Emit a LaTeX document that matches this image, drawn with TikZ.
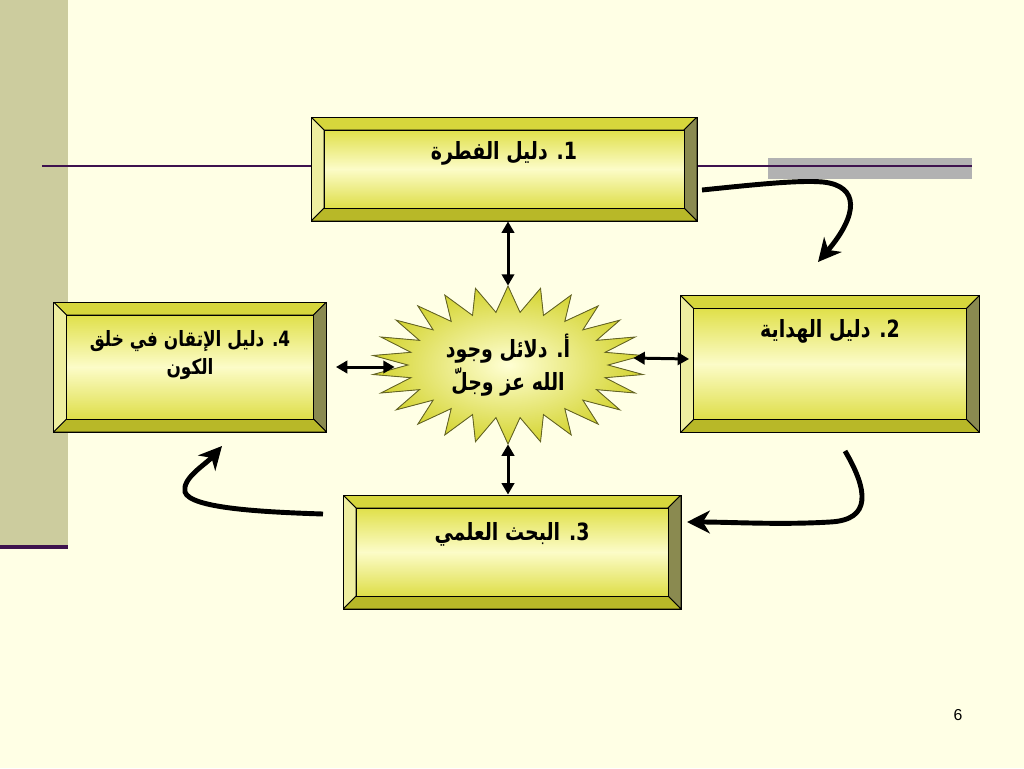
\documentclass[tikz,border=0pt]{standalone}
\usepackage{fontspec}
\setmainfont{Liberation Sans}
\newfontfamily\arabicfont[Script=Arabic, FakeStretch=0.8]{DejaVu Sans}
\TeXXeTstate=1
\usetikzlibrary{calc}
\usetikzlibrary{positioning}
\usetikzlibrary{arrows.meta}
\usetikzlibrary{shapes.geometric}

\definecolor{bgColor}{RGB}{255,255,229}
\definecolor{sideBar}{RGB}{204,204,158}
\definecolor{purpleLine}{RGB}{62,18,78}
\definecolor{greyBar}{RGB}{178,178,178}
\definecolor{bevelTop}{RGB}{214,214,60}
\definecolor{bevelLeft}{RGB}{238,238,160}
\definecolor{bevelRight}{RGB}{138,138,80}
\definecolor{bevelBottom}{RGB}{184,184,40}
\definecolor{faceTop}{RGB}{224,224,74}
\definecolor{faceMid}{RGB}{252,252,200}
\definecolor{faceBot}{RGB}{222,222,72}
\definecolor{starOuter}{RGB}{212,212,48}
\definecolor{starInner}{RGB}{255,255,212}
\definecolor{starEdge}{RGB}{100,100,36}

\newcommand{\bevelSize}{0.26cm}

\tikzset{
  bevelBox/.style={%
    rectangle, draw=black, line width=0.5pt, inner sep=0pt,
    path picture={
      \coordinate (oNW) at (path picture bounding box.north west);
      \coordinate (oSE) at (path picture bounding box.south east);
      \coordinate (iNW) at ($(oNW)+(\bevelSize,-\bevelSize)$);
      \coordinate (iSE) at ($(oSE)+(-\bevelSize,\bevelSize)$);
      \filldraw[fill=bevelTop, line width=0.5pt] (oNW) -- (oSE |- oNW) -- (iSE |- iNW) -- (iNW) -- cycle;
      \filldraw[fill=bevelRight, line width=0.5pt] (oSE |- oNW) -- (oSE) -- (iSE) -- (iSE |- iNW) -- cycle;
      \filldraw[fill=bevelBottom, line width=0.5pt] (oSE) -- (oNW |- oSE) -- (iNW |- iSE) -- (iSE) -- cycle;
      \filldraw[fill=bevelLeft, line width=0.5pt] (oNW |- oSE) -- (oNW) -- (iNW) -- (iNW |- iSE) -- cycle;
      \shade[top color=faceTop, bottom color=faceBot, middle color=faceMid] (iNW) rectangle (iSE);
      \draw[line width=0.5pt] (iNW) rectangle (iSE);
    }
  },
  boxText/.style={%
    font=\arabicfont\bfseries\fontsize{13.5}{16}\selectfont, inner sep=0pt, align=center,
  },
  smallText/.style={%
    font=\arabicfont\bfseries\fontsize{12}{15.5}\selectfont, inner sep=0pt, align=center,
  },
  starText/.style={%
    ellipse, minimum width=5.44cm, minimum height=3.16cm, inner sep=0pt, align=center,
    font=\arabicfont\bfseries\fontsize{13.5}{18.5}\selectfont,
  },
  starBurst/.style={%
    draw=starEdge, line width=0.5pt, shading=radial, inner color=starInner, outer color=starOuter,
  },
  dblArrow/.style={%
    {Triangle[length=6.5pt,width=7pt]}-{Triangle[length=6.5pt,width=7pt]}, line width=1.7pt,
  },
  curveArrow/.style={%
    -{Stealth[length=13pt,width=13pt,inset=4pt]}, line width=2.8pt,
  },
  pageNum/.style={%
    font=\fontsize{9}{10}\selectfont, inner sep=0pt,
  }
}

\begin{document}
\begin{tikzpicture}[x=0.02cm, y=-0.02cm]
          \useasboundingbox (0,0) rectangle (1024,768);
          \fill[bgColor] (0,0) rectangle (1024,768);
          \fill[sideBar] (0,0) rectangle (68,545);
          \draw[purpleLine, line width=2.3pt] (0,547) -- (68,547);
          \fill[greyBar] (768,158) rectangle (972,179);
          \draw[purpleLine, line width=1.3pt] (42,166) -- (972,166);

          \node[bevelBox, minimum width=7.72cm, minimum height=2.08cm] (A) at (504,169) {};
          \node[bevelBox, minimum width=5.98cm, minimum height=2.74cm] (B) at (830,364) {};
          \node[bevelBox, minimum width=6.76cm, minimum height=2.28cm] (C) at (512,552) {};
          \node[bevelBox, minimum width=5.46cm, minimum height=2.60cm] (D) at (190,367) {};

          \node[boxText, below=0.50cm of A.north] (At) {\beginR 1. دليل الفطرة\endR};
          \node[boxText, below=0.48cm of B.north] (Bt) {\beginR 2. دليل الهداية\endR};
          \node[boxText, below=0.56cm of C.north] (Ct) {\beginR 3. البحث العلمي\endR};
          \node[smallText, below=0.58cm of D.north] (Dt) {\beginR 4. دليل الإتقان في خلق\endR\\\beginR الكون\endR};

          \coordinate (Sc) at (508,365);
          \filldraw[starBurst] ($(Sc)+(90:2.72cm and 1.58cm)$)
            \foreach \k in {0,...,25}{
              -- ($(Sc)+({90+(\k+0.5)*360/26}:2.0cm and 1.06cm)$)
              -- ($(Sc)+({90+(\k+1)*360/26}:2.72cm and 1.58cm)$)
            } -- cycle;
          \node[starText] (S) at (Sc) {\beginR أ. دلائل وجود\endR\\\beginR الله عز وجلّ\endR};

          \draw[dblArrow] (S.north) -- (S.north |- A.south);
          \draw[dblArrow] ([xshift=-0.22cm,yshift=0.14cm]S.east) -- ([xshift=0.18cm,yshift=0.1cm]B.west);
          \draw[dblArrow] ([xshift=0.18cm]D.east) -- ([xshift=0.46cm]S.west |- D.east);
          \draw[dblArrow] (S.south) -- (S.south |- C.north);

          \coordinate (ab) at (702,190);
          \coordinate (ba) at (818,262);
          \coordinate (bc) at (845,451);
          \coordinate (cb) at (687,522);
          \coordinate (cd) at (323,514);
          \coordinate (dc) at (222,446);
          \draw[curveArrow] (ab) .. controls (760,184) and (800,180) .. (823,182)
            .. controls (860,186) and (858,215) .. (ba);
          \draw[curveArrow] (bc) .. controls (868,490) and (872,520) .. (830,522)
            .. controls (780,525) and (730,522) .. (cb);
          \draw[curveArrow] (cd) .. controls (260,512) and (190,508) .. (185,492)
            .. controls (182,478) and (205,465) .. (dc);

          \node[pageNum] (P) at (958,715) {6};
        \end{tikzpicture}
\end{document}
